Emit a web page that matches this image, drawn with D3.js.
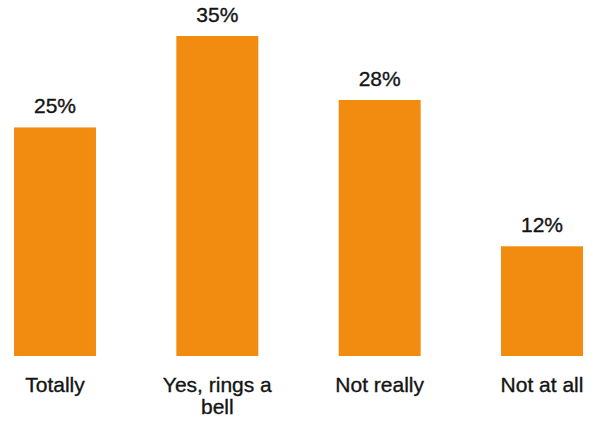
<!DOCTYPE html>
<html>
<head>
<meta charset="utf-8">
<script src="https://cdn.jsdelivr.net/npm/d3@7"></script>
<style>
  html, body { margin: 0; padding: 0; background: #fff; }
  svg { display: block; }
  text { font-family: "Liberation Sans", Arial, Helvetica, sans-serif; fill: #141414; stroke: #141414; stroke-width: 0.35px; }
</style>
</head>
<body>
<svg id="chart" width="606" height="421"></svg>
<script>
const categories = ["Totally", "Yes, rings a bell", "Not really", "Not at all"];
const values = [25, 35, 28, 12];
const valueLabels = ["25%", "35%", "28%", "12%"];

const svg = d3.select("#chart");

const x = d3.scaleBand()
  .domain(categories)
  .range([14, 583])
  .paddingInner(0.495)
  .paddingOuter(0);

const y = d3.scaleLinear()
  .domain([0, 35])
  .range([356, 36]);

// bars
svg.selectAll("rect.bar")
  .data(categories)
  .join("rect")
  .attr("class", "bar")
  .attr("x", d => x(d))
  .attr("width", x.bandwidth())
  .attr("y", (d, i) => y(values[i]))
  .attr("height", (d, i) => y(0) - y(values[i]))
  .attr("fill", "#f28c10");

// value labels above bars
svg.selectAll("text.val")
  .data(categories)
  .join("text")
  .attr("class", "val")
  .attr("x", d => x(d) + x.bandwidth() / 2)
  .attr("y", (d, i) => y(values[i]) - 14)
  .attr("text-anchor", "middle")
  .attr("font-size", 21)
  .text((d, i) => valueLabels[i]);

// category axis (no line, no ticks), wrapped labels
const axis = d3.axisBottom(x).tickSize(0).tickPadding(0);
const g = svg.append("g")
  .attr("transform", `translate(0,${y(0)})`)
  .call(axis);
g.select(".domain").remove();
g.selectAll(".tick text")
  .attr("font-size", 21)
  .attr("font-family", null)
  .attr("fill", "#141414")
  .attr("dy", null)
  .attr("y", 36)
  .each(function(d) {
    const t = d3.select(this);
    const words = d.split(" ");
    t.text(null);
    let line = [];
    let tspan = t.append("tspan").attr("x", 0).attr("dy", 0);
    words.forEach(w => {
      line.push(w);
      tspan.text(line.join(" "));
      if (tspan.node().getComputedTextLength() > 130 && line.length > 1) {
        line.pop();
        tspan.text(line.join(" "));
        line = [w];
        tspan = t.append("tspan").attr("x", 0).attr("dy", 22).text(w);
      }
    });
  });
</script>
</body>
</html>
